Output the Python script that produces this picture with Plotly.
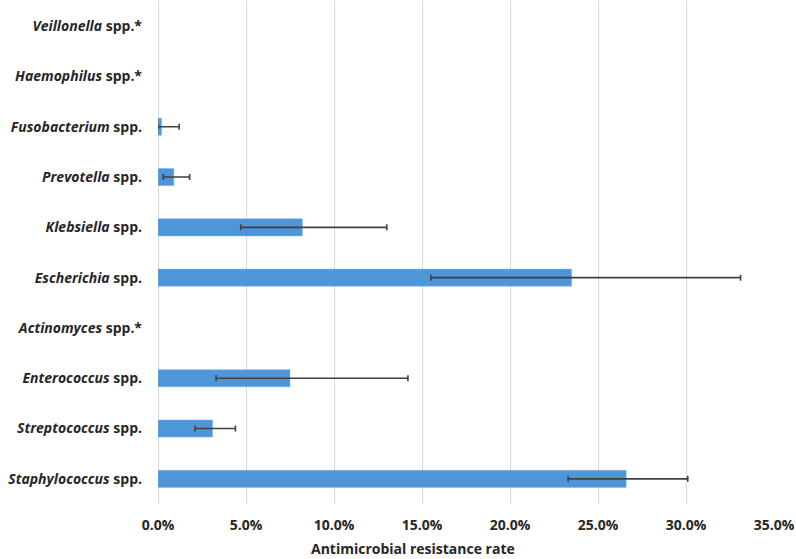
import plotly.graph_objects as go

genus = ["Staphylococcus", "Streptococcus", "Enterococcus", "Actinomyces", "Escherichia",
         "Klebsiella", "Prevotella", "Fusobacterium", "Haemophilus", "Veillonella"]
suffix = [" spp.", " spp.", " spp.", " spp.*", " spp.", " spp.", " spp.", " spp.", " spp.*", " spp.*"]
rate = [26.6, 3.1, 7.5, None, 23.5, 8.2, 0.9, 0.2, None, None]
ci_low = [23.3, 2.1, 3.3, None, 15.5, 4.7, 0.3, 0.0, None, None]
ci_high = [30.1, 4.4, 14.2, None, 33.1, 13.0, 1.8, 1.2, None, None]
tick_vals = [0, 5, 10, 15, 20, 25, 30, 35]
axis_title = "Antimicrobial resistance rate"

labels = [f"<b><i>{g}</i>{s}</b>" for g, s in zip(genus, suffix)]
x = [None if r is None else r / 100 for r in rate]
plus = [None if r is None else (h - r) / 100 for r, h in zip(rate, ci_high)]
minus = [None if r is None else (r - l) / 100 for r, l in zip(rate, ci_low)]

fig = go.Figure(go.Bar(
    y=labels, x=x, orientation="h",
    marker=dict(color="#4E95D9", line=dict(color="#7FB3E6", width=0.5)),
    error_x=dict(type="data", symmetric=False, array=plus, arrayminus=minus,
                 color="#404040", thickness=1.6, width=3),
))

fig.update_layout(
    width=796, height=559,
    margin=dict(l=158, r=22, t=1, b=55),
    paper_bgcolor="white", plot_bgcolor="white",
    font=dict(family="Open Sans, Liberation Sans, Arial", size=14, color="#262626"),
    bargap=0.66,
    showlegend=False,
    annotations=[dict(text=f"<b>{axis_title}</b>", xref="paper", yref="paper",
                      x=0.414, y=-0.0875, xanchor="center", yanchor="middle",
                      showarrow=False, font=dict(size=14, color="#262626"))],
)
fig.update_xaxes(
    range=[0, 0.35], tickvals=[v / 100 for v in tick_vals],
    ticktext=[f"<b>{v:.1f}%</b>" for v in tick_vals],
    tickfont=dict(size=14), showgrid=True, gridcolor="#D9D9D9", gridwidth=1,
    zeroline=True, zerolinecolor="#D9D9D9", zerolinewidth=1, showline=False,
    ticks="", ticklabelstandoff=11,
)
fig.update_yaxes(
    categoryorder="array", categoryarray=labels, showgrid=False, ticks="",
    tickfont=dict(size=14), ticklabelstandoff=15, showline=False,
)

fig.write_html("out.html")
